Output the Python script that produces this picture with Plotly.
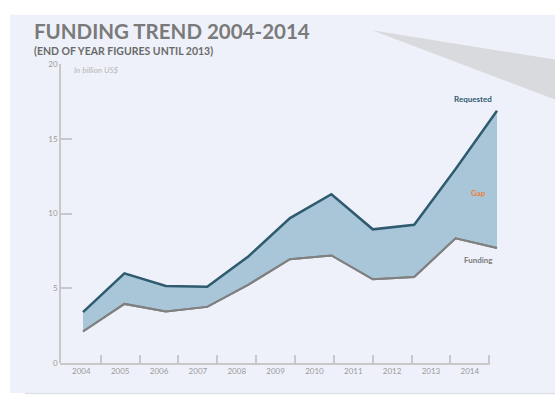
import plotly.graph_objects as go

years = [2004, 2005, 2006, 2007, 2008, 2009, 2010, 2011, 2012, 2013, 2014]
requested = [3.4, 6.0, 5.15, 5.1, 7.15, 9.7, 11.3, 8.95, 9.25, 13.0, 16.9]
funding = [2.1, 3.95, 3.45, 3.75, 5.25, 6.95, 7.2, 5.6, 5.75, 8.35, 7.7]
y_ticks = [0, 5, 10, 15, 20]
tick_labels = [str(y) for y in years]

W, H = 555, 401
def px(x):
    return x / W
def py(y):
    return 1 - y / H

fig = go.Figure()
fig.add_trace(go.Scatter(x=years, y=funding, mode="lines",
                         line=dict(color="#808080", width=2), xaxis="x", yaxis="y",
                         hoverinfo="skip", showlegend=False))
fig.add_trace(go.Scatter(x=years, y=requested, mode="lines", fill="tonexty",
                         fillcolor="#a9c6d9",
                         line=dict(color="#2f5b6f", width=2.5), xaxis="x", yaxis="y",
                         hoverinfo="skip", showlegend=False))
fig.add_trace(go.Scatter(x=years, y=funding, mode="lines",
                         line=dict(color="#808080", width=2), xaxis="x", yaxis="y",
                         hoverinfo="skip", showlegend=False))
# invisible trace to activate label axis
fig.add_trace(go.Scatter(x=years, y=funding, mode="lines", line=dict(width=0),
                         opacity=0, xaxis="x2", yaxis="y", hoverinfo="skip", showlegend=False))

x0 = 2004 - 83 / 41.4
x1 = 2004 + (W - 83) / 41.4
fig.update_layout(
    width=W, height=H,
    margin=dict(l=0, r=0, t=0, b=0),
    paper_bgcolor="white",
    plot_bgcolor="rgba(0,0,0,0)",
    font=dict(family="Lato, Open Sans, sans-serif"),
    xaxis=dict(domain=[0, 1], range=[x0, x1], visible=False, fixedrange=True),
    xaxis2=dict(domain=[px(60), px(490)], range=[2003.45, 2014.52], anchor="y",
                tickvals=years, ticktext=tick_labels, ticks="",
                showline=True, linecolor="#c8c8c8", linewidth=1.5, showgrid=False,
                zeroline=False,
                tickfont=dict(size=8, color="#9a9a9a", family="Lato, sans-serif"),
                minor=dict(tickmode="array", tickvals=[y + 0.5 for y in years],
                           ticks="inside", ticklen=8, tickcolor="#c8c8c8", tickwidth=1.5)),
    yaxis=dict(domain=[py(367), py(61)], range=[0, 20], anchor="free", position=px(60),
               tickvals=y_ticks, ticks="inside", ticklen=11, tickcolor="#c8c8c8",
               tickwidth=1.5, showline=True, linecolor="#c8c8c8", linewidth=1.5,
               showgrid=False, zeroline=False,
               tickfont=dict(size=8, color="#9a9a9a", family="Lato, sans-serif")),
)

fig.add_shape(type="rect", xref="paper", yref="paper", x0=px(10), x1=1, y0=py(398), y1=py(10),
              fillcolor="#eef1f9", line=dict(width=0), layer="below")
fig.add_shape(type="line", xref="paper", yref="paper", x0=px(25), x1=1, y0=py(398.5), y1=py(398.5),
              line=dict(color="#dde2ec", width=1.5), layer="below")
fig.add_shape(type="path", xref="paper", yref="paper",
              path=f"M {px(372)} {py(26)} L {px(555)} {py(56)} L {px(555)} {py(97)} Z",
              fillcolor="#d9dadd", line=dict(width=0), layer="below")

fig.add_annotation(text="<b>FUNDING TREND 2004-2014</b>", xref="paper", yref="paper",
                   x=px(32), y=py(27), xanchor="left", yanchor="middle", showarrow=False,
                   font=dict(size=20.5, color="#7a7a7a", family="Lato, sans-serif"))
fig.add_annotation(text="<b>(END OF YEAR FIGURES UNTIL 2013)</b>", xref="paper", yref="paper",
                   x=px(32), y=py(47), xanchor="left", yanchor="middle", showarrow=False,
                   font=dict(size=10.5, color="#6a6a6a", family="Lato, sans-serif"))
fig.add_annotation(text="<i>In billion US$</i>", xref="paper", yref="paper",
                   x=px(72), y=py(67), xanchor="left", yanchor="middle", showarrow=False,
                   font=dict(size=8, color="#b8b8b8", family="Lato, sans-serif"))
fig.add_annotation(text="<b>Requested</b>", xref="paper", yref="paper",
                   x=px(473), y=py(96), xanchor="center", yanchor="middle", showarrow=False,
                   font=dict(size=8, color="#2f5b6f", family="Lato, sans-serif"))
fig.add_annotation(text="<b>Gap</b>", xref="paper", yref="paper",
                   x=px(478), y=py(193), xanchor="center", yanchor="middle", showarrow=False,
                   font=dict(size=8, color="#e8803f", family="Lato, sans-serif"))
fig.add_annotation(text="<b>Funding</b>", xref="paper", yref="paper",
                   x=px(478), y=py(262), xanchor="center", yanchor="middle", showarrow=False,
                   font=dict(size=8, color="#7a7a7a", family="Lato, sans-serif"))

fig.write_html("out.html")
